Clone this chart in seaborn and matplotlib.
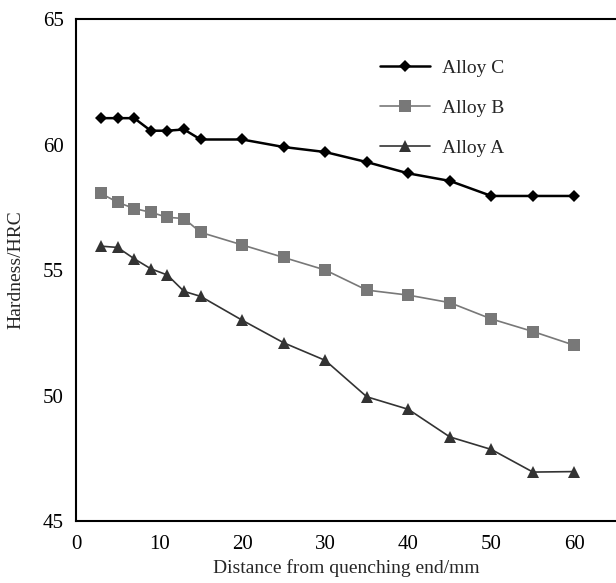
import matplotlib
matplotlib.use("Agg")
import matplotlib.pyplot as plt
import seaborn as sns
import pandas as pd

distance = [3, 5, 7, 9, 11, 13, 15, 20, 25, 30, 35, 40, 45, 50, 55, 60]
alloy_c = [61.05, 61.05, 61.05, 60.55, 60.55, 60.6, 60.2, 60.2, 59.9, 59.7, 59.3, 58.85, 58.55, 57.95, 57.95, 57.95]
alloy_b = [58.05, 57.7, 57.45, 57.3, 57.1, 57.05, 56.5, 56.0, 55.5, 55.0, 54.2, 54.0, 53.7, 53.05, 52.55, 52.0]
alloy_a = [55.95, 55.9, 55.45, 55.05, 54.8, 54.15, 53.95, 53.0, 52.1, 51.4, 49.95, 49.45, 48.35, 47.85, 46.95, 46.97]
series_names = ["Alloy C", "Alloy B", "Alloy A"]

df = pd.concat([
    pd.DataFrame({"distance": distance, "hardness": alloy_c, "alloy": series_names[0]}),
    pd.DataFrame({"distance": distance, "hardness": alloy_b, "alloy": series_names[1]}),
    pd.DataFrame({"distance": distance, "hardness": alloy_a, "alloy": series_names[2]}),
])

sns.set_style("white")
plt.rcParams['font.family'] = ['Liberation Serif', 'DejaVu Serif']

fig = plt.figure(figsize=(6.16, 5.83), dpi=100)
ax = fig.add_axes([0.1234, 0.1063, 0.8766, 0.8611])

palette = {"Alloy C": "#000000", "Alloy B": "#787878", "Alloy A": "#333333"}
markers = {"Alloy C": "D", "Alloy B": "s", "Alloy A": "^"}
sizes = {"Alloy C": 6.5, "Alloy B": 8, "Alloy A": 8.5}
widths = {"Alloy C": 1.8, "Alloy B": 1.2, "Alloy A": 1.2}

for name in series_names:
    sub = df[df["alloy"] == name]
    sns.lineplot(data=sub, x="distance", y="hardness", ax=ax, color=palette[name],
                 marker=markers[name], markersize=sizes[name], markeredgewidth=0,
                 linewidth=widths[name], label=name, legend=False)

ax.set_xlim(0, 65)
ax.set_ylim(45, 65)
ax.set_xticks([0, 10, 20, 30, 40, 50, 60])
ax.set_yticks([45, 50, 55, 60, 65])
ax.tick_params(axis="both", direction="in", length=5, width=1.2, labelsize=15, colors="black")
ax.tick_params(axis="x", pad=10)
ax.tick_params(axis="y", length=0, pad=9)
for side in ["left", "bottom", "top"]:
    ax.spines[side].set_color("black")
    ax.spines[side].set_linewidth(1.5)
ax.spines["right"].set_visible(False)

ax.set_xlabel("Distance from quenching end/mm", fontsize=14, labelpad=4)
ax.set_ylabel("Hardness/HRC", fontsize=14, labelpad=13)

leg = ax.legend(loc="upper left", bbox_to_anchor=(0.53, 0.955), frameon=False,
                fontsize=14, handlelength=2.6, labelspacing=1.15, handletextpad=0.6)

fig.savefig("out.png", dpi=100)
